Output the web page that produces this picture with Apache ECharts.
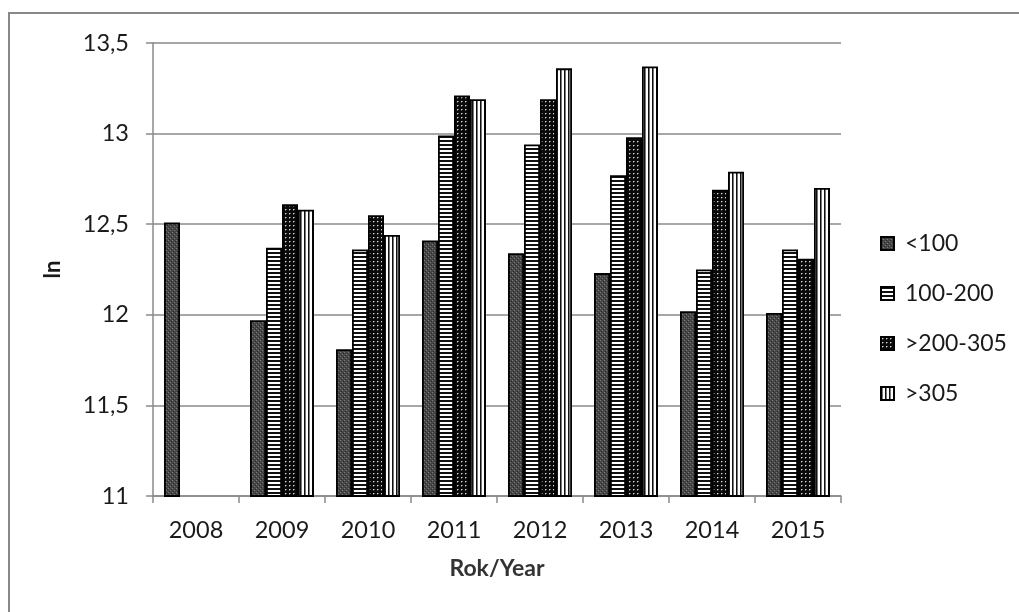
<!DOCTYPE html>
<html>
<head>
<meta charset="utf-8">
<script src="https://cdn.jsdelivr.net/npm/echarts@6/dist/echarts.min.js"></script>
<style>
  html, body { margin: 0; padding: 0; background: #fff; }
  #chart { width: 1019px; height: 612px; }
</style>
</head>
<body>
<div id="chart"></div>
<script>
// Years on the category axis
const years = ['2008', '2009', '2010', '2011', '2012', '2013', '2014', '2015'];

// ln values per size class
const seriesNames = ['<100', '100-200', '>200-305', '>305'];
const lt100     = [12.51, 11.97, 11.81, 12.41, 12.34, 12.23, 12.02, 12.01];
const r100_200  = [null,  12.37, 12.36, 12.99, 12.94, 12.77, 12.25, 12.36];
const r200_305  = [null,  12.61, 12.55, 13.21, 13.19, 12.98, 12.69, 12.31];
const gt305     = [null,  12.58, 12.44, 13.19, 13.36, 13.37, 12.79, 12.70];

// y axis ticks
const yMin = 11, yMax = 13.5, yStep = 0.5;

const FONT = 'Lato, "Open Sans", sans-serif';
const AXIS_GREY = '#8a8a8a';
const TEXT = '#1a1a1a';

// Small repeating tiles used as bar fills
function tile(w, h, draw) {
  const c = document.createElement('canvas');
  c.width = w; c.height = h;
  const g = c.getContext('2d');
  draw(g);
  return { image: c, repeat: 'repeat' };
}
function px(g, x, y, col) { g.fillStyle = col; g.fillRect(x, y, 1, 1); }

// dark grey speckled
const fillDots = tile(4, 4, g => {
  g.fillStyle = '#474747'; g.fillRect(0, 0, 4, 4);
  px(g, 0, 0, '#7a7a7a'); px(g, 2, 2, '#7a7a7a');
  px(g, 1, 3, '#2c2c2c'); px(g, 3, 1, '#2c2c2c');
});
// horizontal stripes
const fillHoriz = tile(4, 4, g => {
  g.fillStyle = '#ffffff'; g.fillRect(0, 0, 4, 4);
  g.fillStyle = '#111111'; g.fillRect(0, 0, 4, 2);
});
// black with small light dots
const fillBlackDots = tile(4, 4, g => {
  g.fillStyle = '#0a0a0a'; g.fillRect(0, 0, 4, 4);
  px(g, 1, 1, '#d8d8d8'); px(g, 2, 1, '#6a6a6a'); px(g, 1, 2, '#555555');
});
// vertical stripes
const fillVert = tile(4, 4, g => {
  g.fillStyle = '#ffffff'; g.fillRect(0, 0, 4, 4);
  g.fillStyle = '#111111'; g.fillRect(0, 0, 1, 4);
  g.fillStyle = '#777777'; g.fillRect(1, 0, 1, 4);
});

const fills = [fillDots, fillHoriz, fillBlackDots, fillVert];
const values = [lt100, r100_200, r200_305, gt305];

const chart = echarts.init(document.getElementById('chart'), null, { renderer: 'canvas' });

chart.setOption({
  animation: false,
  backgroundColor: '#ffffff',
  textStyle: { fontFamily: FONT },
  graphic: [{
    type: 'rect',
    shape: { x: 9, y: 13, width: 1100, height: 700 },
    style: { fill: 'none', stroke: '#888888', lineWidth: 2 },
    silent: true
  }],
  grid: { left: 153, right: 178, top: 43, bottom: 116, containLabel: false },
  legend: {
    orient: 'vertical',
    left: 875,
    top: 227,
    itemWidth: 13,
    itemHeight: 13,
    itemGap: 27,
    icon: 'rect',
    textStyle: { fontFamily: FONT, fontSize: 23, color: TEXT, padding: [0, 0, 0, 6] },
    data: seriesNames
  },
  xAxis: {
    type: 'category',
    data: years,
    name: 'Rok/Year',
    nameLocation: 'middle',
    nameGap: 61,
    nameMoveOverlap: false,
    nameTextStyle: { fontFamily: FONT, fontSize: 23, fontWeight: 'bold', color: '#333' },
    axisLine: { lineStyle: { color: AXIS_GREY, width: 1.5 } },
    axisTick: { show: true, length: 7, inside: false, lineStyle: { color: AXIS_GREY, width: 1.5 } },
    axisLabel: { fontFamily: FONT, fontSize: 23.5, color: TEXT, margin: 22 },
    splitLine: { show: false }
  },
  yAxis: {
    type: 'value',
    min: yMin, max: yMax, interval: yStep,
    name: 'ln',
    nameLocation: 'middle',
    nameRotate: 90,
    nameGap: 89,
    nameMoveOverlap: false,
    nameTextStyle: { fontFamily: FONT, fontSize: 22, fontWeight: 'bold', color: TEXT },
    axisLine: { show: true, lineStyle: { color: AXIS_GREY, width: 1.5 } },
    axisTick: { show: true, length: 7, lineStyle: { color: AXIS_GREY, width: 1.5 } },
    axisLabel: {
      fontFamily: FONT, fontSize: 23.5, color: TEXT, margin: 24,
      formatter: v => String(v).replace('.', ',')
    },
    splitLine: { show: true, lineStyle: { color: AXIS_GREY, width: 1.5 } }
  },
  series: seriesNames.map((name, i) => ({
    name,
    type: 'bar',
    data: values[i],
    barGap: '0%',
    barCategoryGap: '25.6%',
    itemStyle: { color: fills[i], borderColor: '#000', borderWidth: 1.8 },
    emphasis: { disabled: true }
  }))
});
</script>
</body>
</html>
